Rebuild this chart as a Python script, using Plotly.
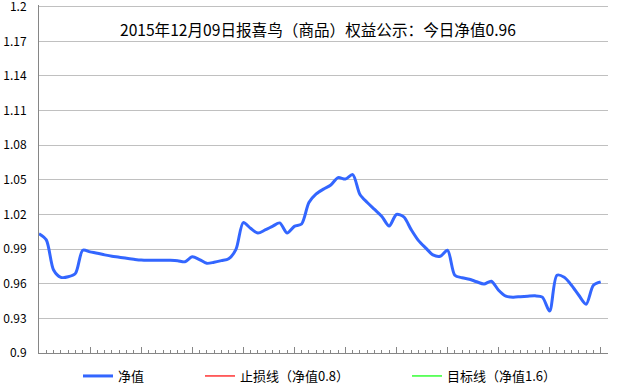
import plotly.graph_objects as go

# ---- data ----
net_value = [
    1.0034, 0.998, 0.972, 0.9656, 0.966, 0.969, 0.989, 0.9876, 0.9864, 0.985,
    0.9838, 0.983, 0.982, 0.9812, 0.9805, 0.9803, 0.9803, 0.9803, 0.9803, 0.980,
    0.979, 0.9833, 0.981, 0.9777, 0.9786, 0.980, 0.9816, 0.9898, 1.013, 1.008,
    1.0039, 1.0066, 1.0097, 1.0127, 1.004, 1.0097, 1.0118, 1.0304, 1.0379, 1.042,
    1.0455, 1.052, 1.0507, 1.0546, 1.0373, 1.0304, 1.0244, 1.0183, 1.010, 1.020,
    1.0179, 1.0071, 0.9976, 0.9911, 0.985, 0.9838, 0.989, 0.9674, 0.9652, 0.9639,
    0.9617, 0.9598, 0.9622, 0.9544, 0.9492, 0.9484, 0.9488, 0.9492, 0.9495, 0.9484,
    0.9363, 0.9674, 0.9656, 0.9587, 0.950, 0.9423, 0.9587, 0.9616,
]
days = list(range(len(net_value)))
stop_loss_level = 0.8
target_level = 1.6
stop_loss = [stop_loss_level] * len(days)
target = [target_level] * len(days)

y_tickvals = [0.9, 0.93, 0.96, 0.99, 1.02, 1.05, 1.08, 1.11, 1.14, 1.17, 1.2]
y_ticktext = ["0.9", "0.93", "0.96", "0.99", "1.02", "1.05", "1.08", "1.11", "1.14", "1.17", "1.2"]

title_text = "2015年12月09日报喜鸟（商品）权益公示：今日净值0.96"
name_net = "净值"
name_stop = "止损线（净值0.8）"
name_target = "目标线（净值1.6）"

FONT = "Noto Sans CJK SC"
AXIS_GRAY = "#868686"
GRID_GRAY = "#c0c0c0"

fig = go.Figure()
fig.add_trace(go.Scatter(
    x=days, y=net_value, mode="lines", name=name_net,
    line=dict(color="#3366ff", width=3, shape="spline", smoothing=0.8),
    legend="legend",
))
fig.add_trace(go.Scatter(
    x=days, y=stop_loss, mode="lines", name=name_stop,
    line=dict(color="#ff0000", width=1.2), legend="legend2",
))
fig.add_trace(go.Scatter(
    x=days, y=target, mode="lines", name=name_target,
    line=dict(color="#00ff00", width=1.2), legend="legend3",
))

legend_common = dict(
    orientation="h", yanchor="middle", xanchor="left",
    xref="container", yref="container", y=(389 - 376) / 389,
    font=dict(family=FONT, size=13, color="#000000"),
    bgcolor="rgba(0,0,0,0)", borderwidth=0,
)

fig.update_layout(
    width=634, height=389,
    margin=dict(l=39, r=26, t=5, b=36, autoexpand=False),
    paper_bgcolor="white", plot_bgcolor="white",
    font=dict(family=FONT, size=12, color="#000000"),
    showlegend=True,
    legend=dict(**legend_common, x=78 / 634),
    legend2=dict(**legend_common, x=200 / 634),
    legend3=dict(**legend_common, x=407 / 634),
    xaxis=dict(
        range=[0, 78], showgrid=False, zeroline=False,
        showline=True, linecolor=AXIS_GRAY, linewidth=1,
        tickmode="linear", tick0=0, dtick=7,
        ticks="inside", ticklen=6, tickcolor=AXIS_GRAY, tickwidth=1,
        showticklabels=False,
        minor=dict(dtick=1, tick0=0, ticks="inside", ticklen=3,
                   tickcolor=AXIS_GRAY, tickwidth=1, showgrid=False),
        automargin=False,
    ),
    yaxis=dict(
        range=[0.9, 1.2015], showgrid=True, gridcolor=GRID_GRAY, gridwidth=1,
        zeroline=False, showline=True, linecolor=AXIS_GRAY, linewidth=1,
        tickmode="array", tickvals=y_tickvals, ticktext=y_ticktext,
        ticks="outside", ticklen=0, ticklabelstandoff=9,
        ticklabeloverflow="allow",
        tickfont=dict(family=FONT, size=12, color="#000000"),
        automargin=False,
    ),
)

fig.add_annotation(
    text=title_text, xref="paper", yref="y", x=0.49, y=1.181,
    showarrow=False, font=dict(family=FONT, size=15.6, color="#000000"),
    xanchor="center", yanchor="middle",
)

fig.write_html("out.html")
